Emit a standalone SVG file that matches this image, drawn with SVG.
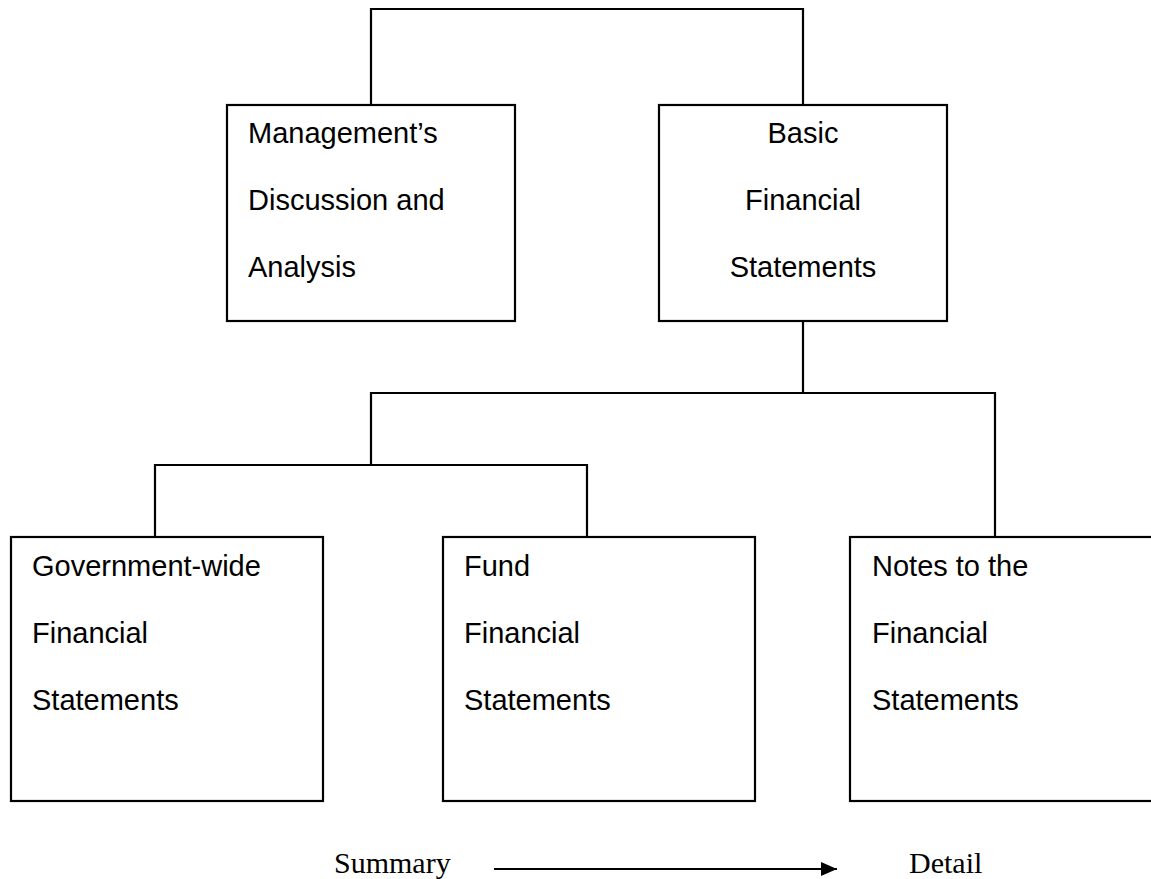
<svg xmlns="http://www.w3.org/2000/svg" width="1151" height="879" viewBox="0 0 1151 879">
<defs>
<style>
.box{fill:#fff;stroke:#000;stroke-width:2.2}
.conn{fill:none;stroke:#000;stroke-width:2.2}
.t{font-family:"Liberation Sans",Arial,sans-serif;font-size:29px;fill:#000}
.c{text-anchor:middle}
.s{font-family:"Liberation Serif","Times New Roman",serif;font-size:30px;fill:#000}
</style>
<marker id="ah" markerUnits="userSpaceOnUse" markerWidth="16" markerHeight="14" refX="16" refY="7" orient="auto"><path d="M0,0 L16,7 L0,14 Z" fill="#000"/></marker>
</defs>
<rect width="1151" height="879" fill="#fff"/>
<g id="connectors" class="conn">
<polyline points="371,105 371,9 803,9 803,105"/>
<line x1="803" y1="321" x2="803" y2="393"/>
<polyline points="371,465 371,393 995,393 995,537"/>
<polyline points="155,537 155,465 587,465 587,537"/>
<line x1="494" y1="869" x2="837" y2="869" marker-end="url(#ah)"/>
</g>
<g id="mdna">
<rect class="box" x="227" y="105" width="288" height="216"/>
<text class="t" x="248" y="143">Management’s</text>
<text class="t" x="248" y="210">Discussion and</text>
<text class="t" x="248" y="277">Analysis</text>
</g>
<g id="basic">
<rect class="box" x="659" y="105" width="288" height="216"/>
<text class="t c" x="803" y="143">Basic</text>
<text class="t c" x="803" y="210">Financial</text>
<text class="t c" x="803" y="277">Statements</text>
</g>
<g id="govwide">
<rect class="box" x="11" y="537" width="312" height="264"/>
<text class="t" x="32" y="576">Government-wide</text>
<text class="t" x="32" y="643">Financial</text>
<text class="t" x="32" y="710">Statements</text>
</g>
<g id="fund">
<rect class="box" x="443" y="537" width="312" height="264"/>
<text class="t" x="464" y="576">Fund</text>
<text class="t" x="464" y="643">Financial</text>
<text class="t" x="464" y="710">Statements</text>
</g>
<g id="notes">
<rect class="box" x="850" y="537" width="312" height="264"/>
<text class="t" x="872" y="576">Notes to the</text>
<text class="t" x="872" y="643">Financial</text>
<text class="t" x="872" y="710">Statements</text>
</g>
<g id="legend">
<text class="s" x="334" y="873">Summary</text>
<text class="s" x="909" y="873">Detail</text>
</g>
</svg>
